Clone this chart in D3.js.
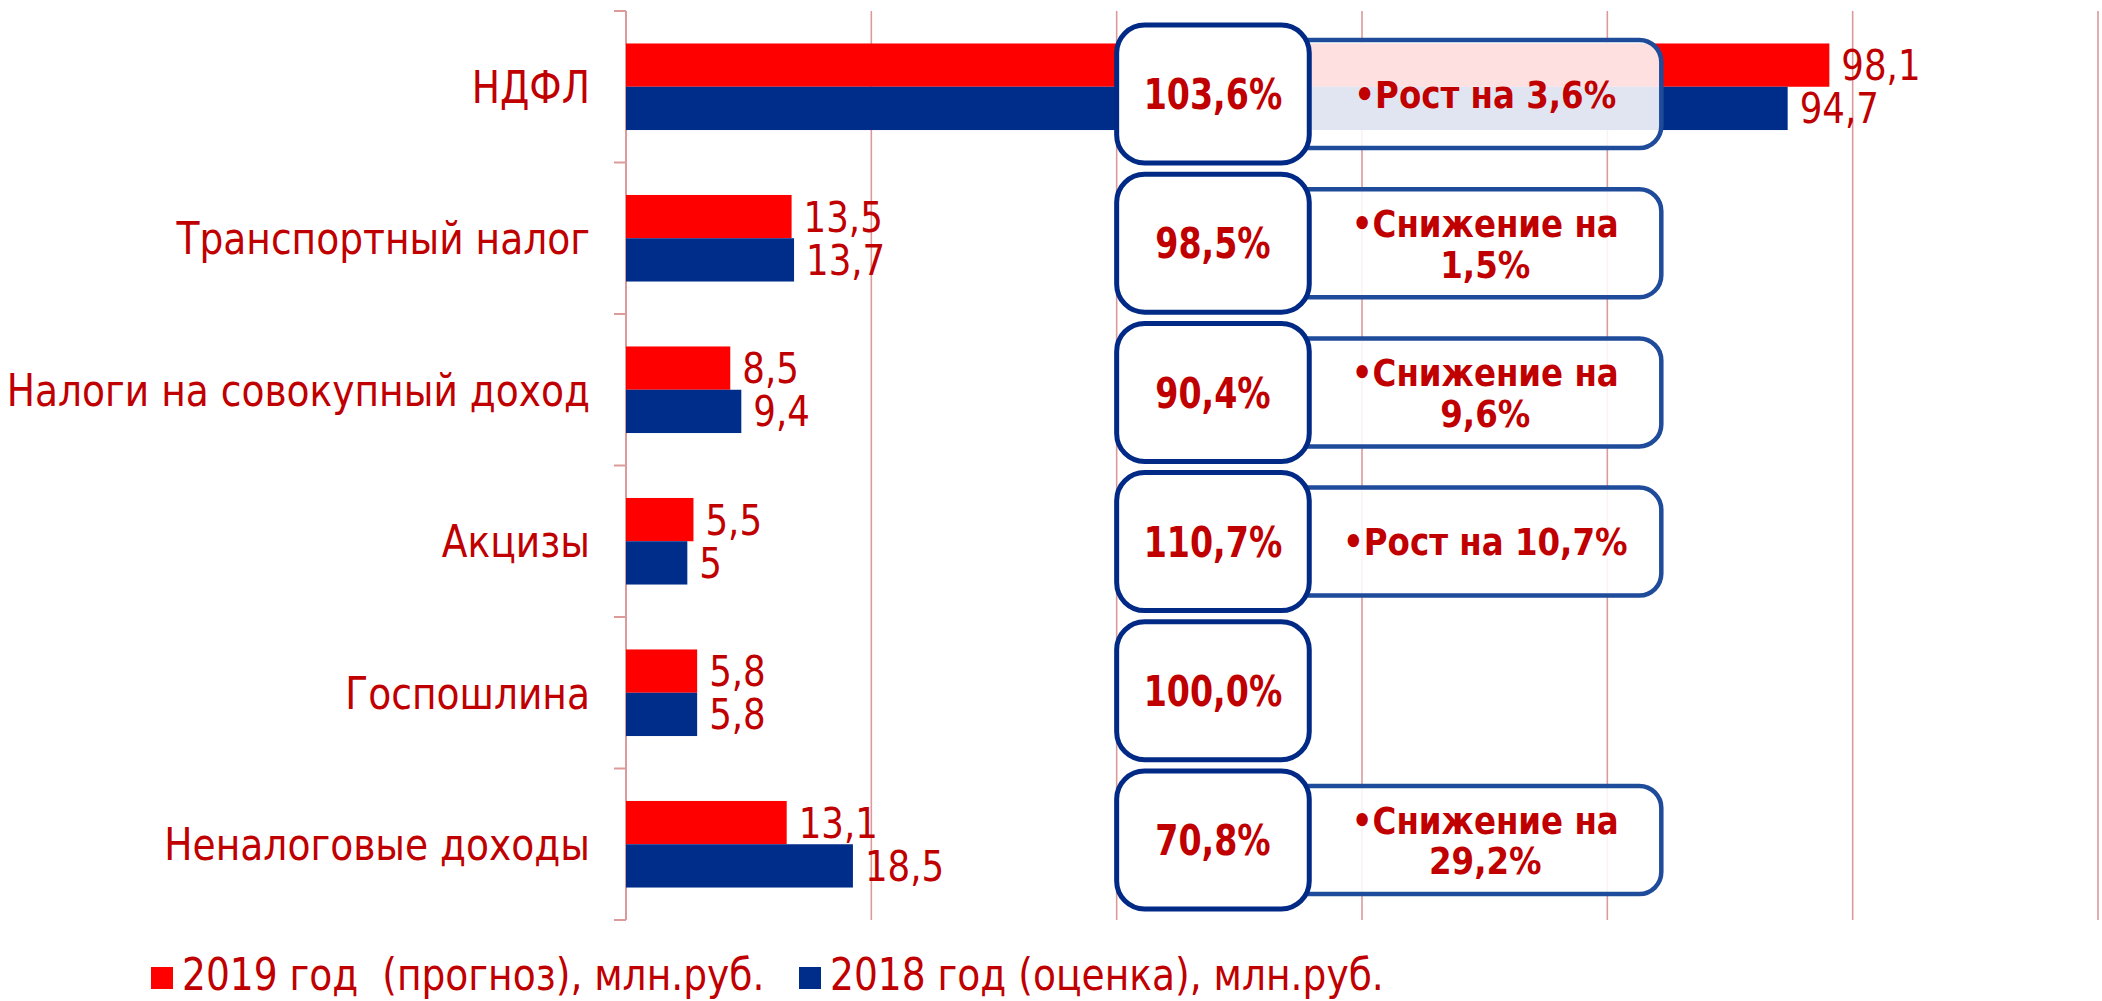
<!DOCTYPE html>
<html>
<head>
<meta charset="utf-8">
<script src="https://d3js.org/d3.v7.min.js"></script>
<style>
    body { margin: 0; background: #fff; }
    svg text { font-family: 'DejaVu Sans Condensed', 'DejaVu Sans', sans-serif; fill: #c00000; }
    .grid line { stroke: #dc9a9a; stroke-width: 1.6px; }
    .note { font-weight: bold; }
</style>
</head>
<body>
<svg id="chart" width="2102" height="1001"></svg>
<script>
// data
const categories = ['НДФЛ', 'Транспортный налог', 'Налоги на совокупный доход', 'Акцизы', 'Госпошлина', 'Неналоговые доходы']
const forecast2019 = [98.1, 13.5, 8.5, 5.5, 5.8, 13.1]
const estimate2018 = [94.7, 13.7, 9.4, 5, 5.8, 18.5]
const ratios = ['103,6%', '98,5%', '90,4%', '110,7%', '100,0%', '70,8%']
const notes = [['•Рост на 3,6%'], ['•Снижение на', '1,5%'], ['•Снижение на', '9,6%'], ['•Рост на 10,7%'], null, ['•Снижение на', '29,2%']]
const seriesNames = ['2019 год  (прогноз), млн.руб.', '2018 год (оценка), млн.руб.']
const xTicks = [0, 20, 40, 60, 80, 100, 120]

const colors = ['#ff0000', '#002d8a']
const svg = d3.select('#chart')

// the source font is narrower than DejaVu, so squeeze text a little
const squeeze = (px, py, sx) => `translate(${px},${py}) scale(${sx},1)`

const x = d3.scaleLinear().domain([0, 120]).range([626, 2098])
const y = d3.scaleBand().domain(categories).range([11, 920])
const sub = d3.scaleBand().domain([0, 1]).range([0, y.bandwidth()]).paddingOuter(0.75)

// grid
svg.append('g').attr('class', 'grid')
    .selectAll('line').data(xTicks.slice(1)).join('line')
    .attr('x1', d => x(d)).attr('x2', d => x(d))
    .attr('y1', y.range()[0]).attr('y2', y.range()[1])

// left axis with category ticks
const yAxis = svg.append('g')
    .attr('transform', `translate(${x(0)},0)`)
yAxis.append('line')
    .attr('y1', y.range()[0]).attr('y2', y.range()[1])
    .attr('stroke', '#dc9a9a').attr('stroke-width', 2)
yAxis.selectAll('.tk').data(categories.map(c => y(c)).concat([y.range()[1]])).join('line')
    .attr('class', 'tk')
    .attr('x1', -12).attr('x2', 0)
    .attr('y1', d => d).attr('y2', d => d)
    .attr('stroke', '#dc9a9a').attr('stroke-width', 2)
yAxis.selectAll('.lbl').data(categories).join('text')
    .attr('class', 'lbl')
    .attr('transform', d => squeeze(-36, y(d) + y.bandwidth() / 2, 0.95))
    .attr('dy', '0.36em')
    .attr('text-anchor', 'end')
    .style('font-size', '44px')
    .text(d => d)

// bars
const series = [forecast2019, estimate2018]
series.forEach((vals, s) => {
    const g = svg.append('g')
    g.selectAll('rect').data(vals).join('rect')
        .attr('x', x(0))
        .attr('y', (d, i) => y(categories[i]) + sub(s))
        .attr('width', d => x(d) - x(0))
        .attr('height', sub.bandwidth())
        .attr('fill', colors[s])
    g.selectAll('text').data(vals).join('text')
        .attr('transform', (d, i) => squeeze(x(d) + 12, y(categories[i]) + sub(s) + sub.bandwidth() / 2, 0.92))
        .attr('dy', '0.35em')
        .style('font-size', '43px')
        .text(d => String(d).replace('.', ','))
})

// comment boxes
const boxY = d3.scaleBand().domain(categories).range([25, 909]).paddingInner(0.075)
const boxW = x(55.7) - x(40)
const noteRight = x(84.4)
const noteH = 108

categories.forEach((c, i) => {
    const cy = boxY(c) + boxY.bandwidth() / 2
    if (notes[i]) {
        svg.append('rect')
            .attr('x', x(40) + boxW / 2).attr('y', cy - noteH / 2)
            .attr('width', noteRight - x(40) - boxW / 2).attr('height', noteH)
            .attr('rx', 22)
            .attr('fill', 'rgba(255,255,255,0.88)')
            .attr('stroke', '#1f4b9b').attr('stroke-width', 4.5)
        const lines = notes[i]
        const cx = (x(40) + boxW + noteRight) / 2
        svg.append('text').attr('class', 'note')
            .attr('transform', squeeze(cx, cy - (lines.length - 1) * 20, 0.95))
            .attr('text-anchor', 'middle')
            .style('font-size', '38px')
            .selectAll('tspan').data(lines).join('tspan')
            .attr('x', 0)
            .attr('dy', (d, k) => k ? '1.07em' : '0.36em')
            .text(d => d)
    }
    svg.append('rect')
        .attr('x', x(40)).attr('y', boxY(c))
        .attr('width', boxW).attr('height', boxY.bandwidth())
        .attr('rx', 28)
        .attr('fill', '#fff')
        .attr('stroke', '#002a85').attr('stroke-width', 5)
    svg.append('text').attr('class', 'note')
        .attr('transform', squeeze(x(40) + boxW / 2, cy, 0.88))
        .attr('dy', '0.36em')
        .attr('text-anchor', 'middle')
        .style('font-size', '42px')
        .text(ratios[i])
})

// legend
const legendX = [151, 799]
const legend = svg.append('g')
seriesNames.forEach((name, s) => {
    legend.append('rect')
        .attr('x', legendX[s]).attr('y', 967)
        .attr('width', 22).attr('height', 22)
        .attr('fill', colors[s])
    legend.append('text')
        .attr('transform', squeeze(legendX[s] + 31, 990, 0.95))
        .attr('xml:space', 'preserve')
        .style('white-space', 'pre')
        .style('font-size', '44px')
        .text(name)
})
</script>
</body>
</html>
